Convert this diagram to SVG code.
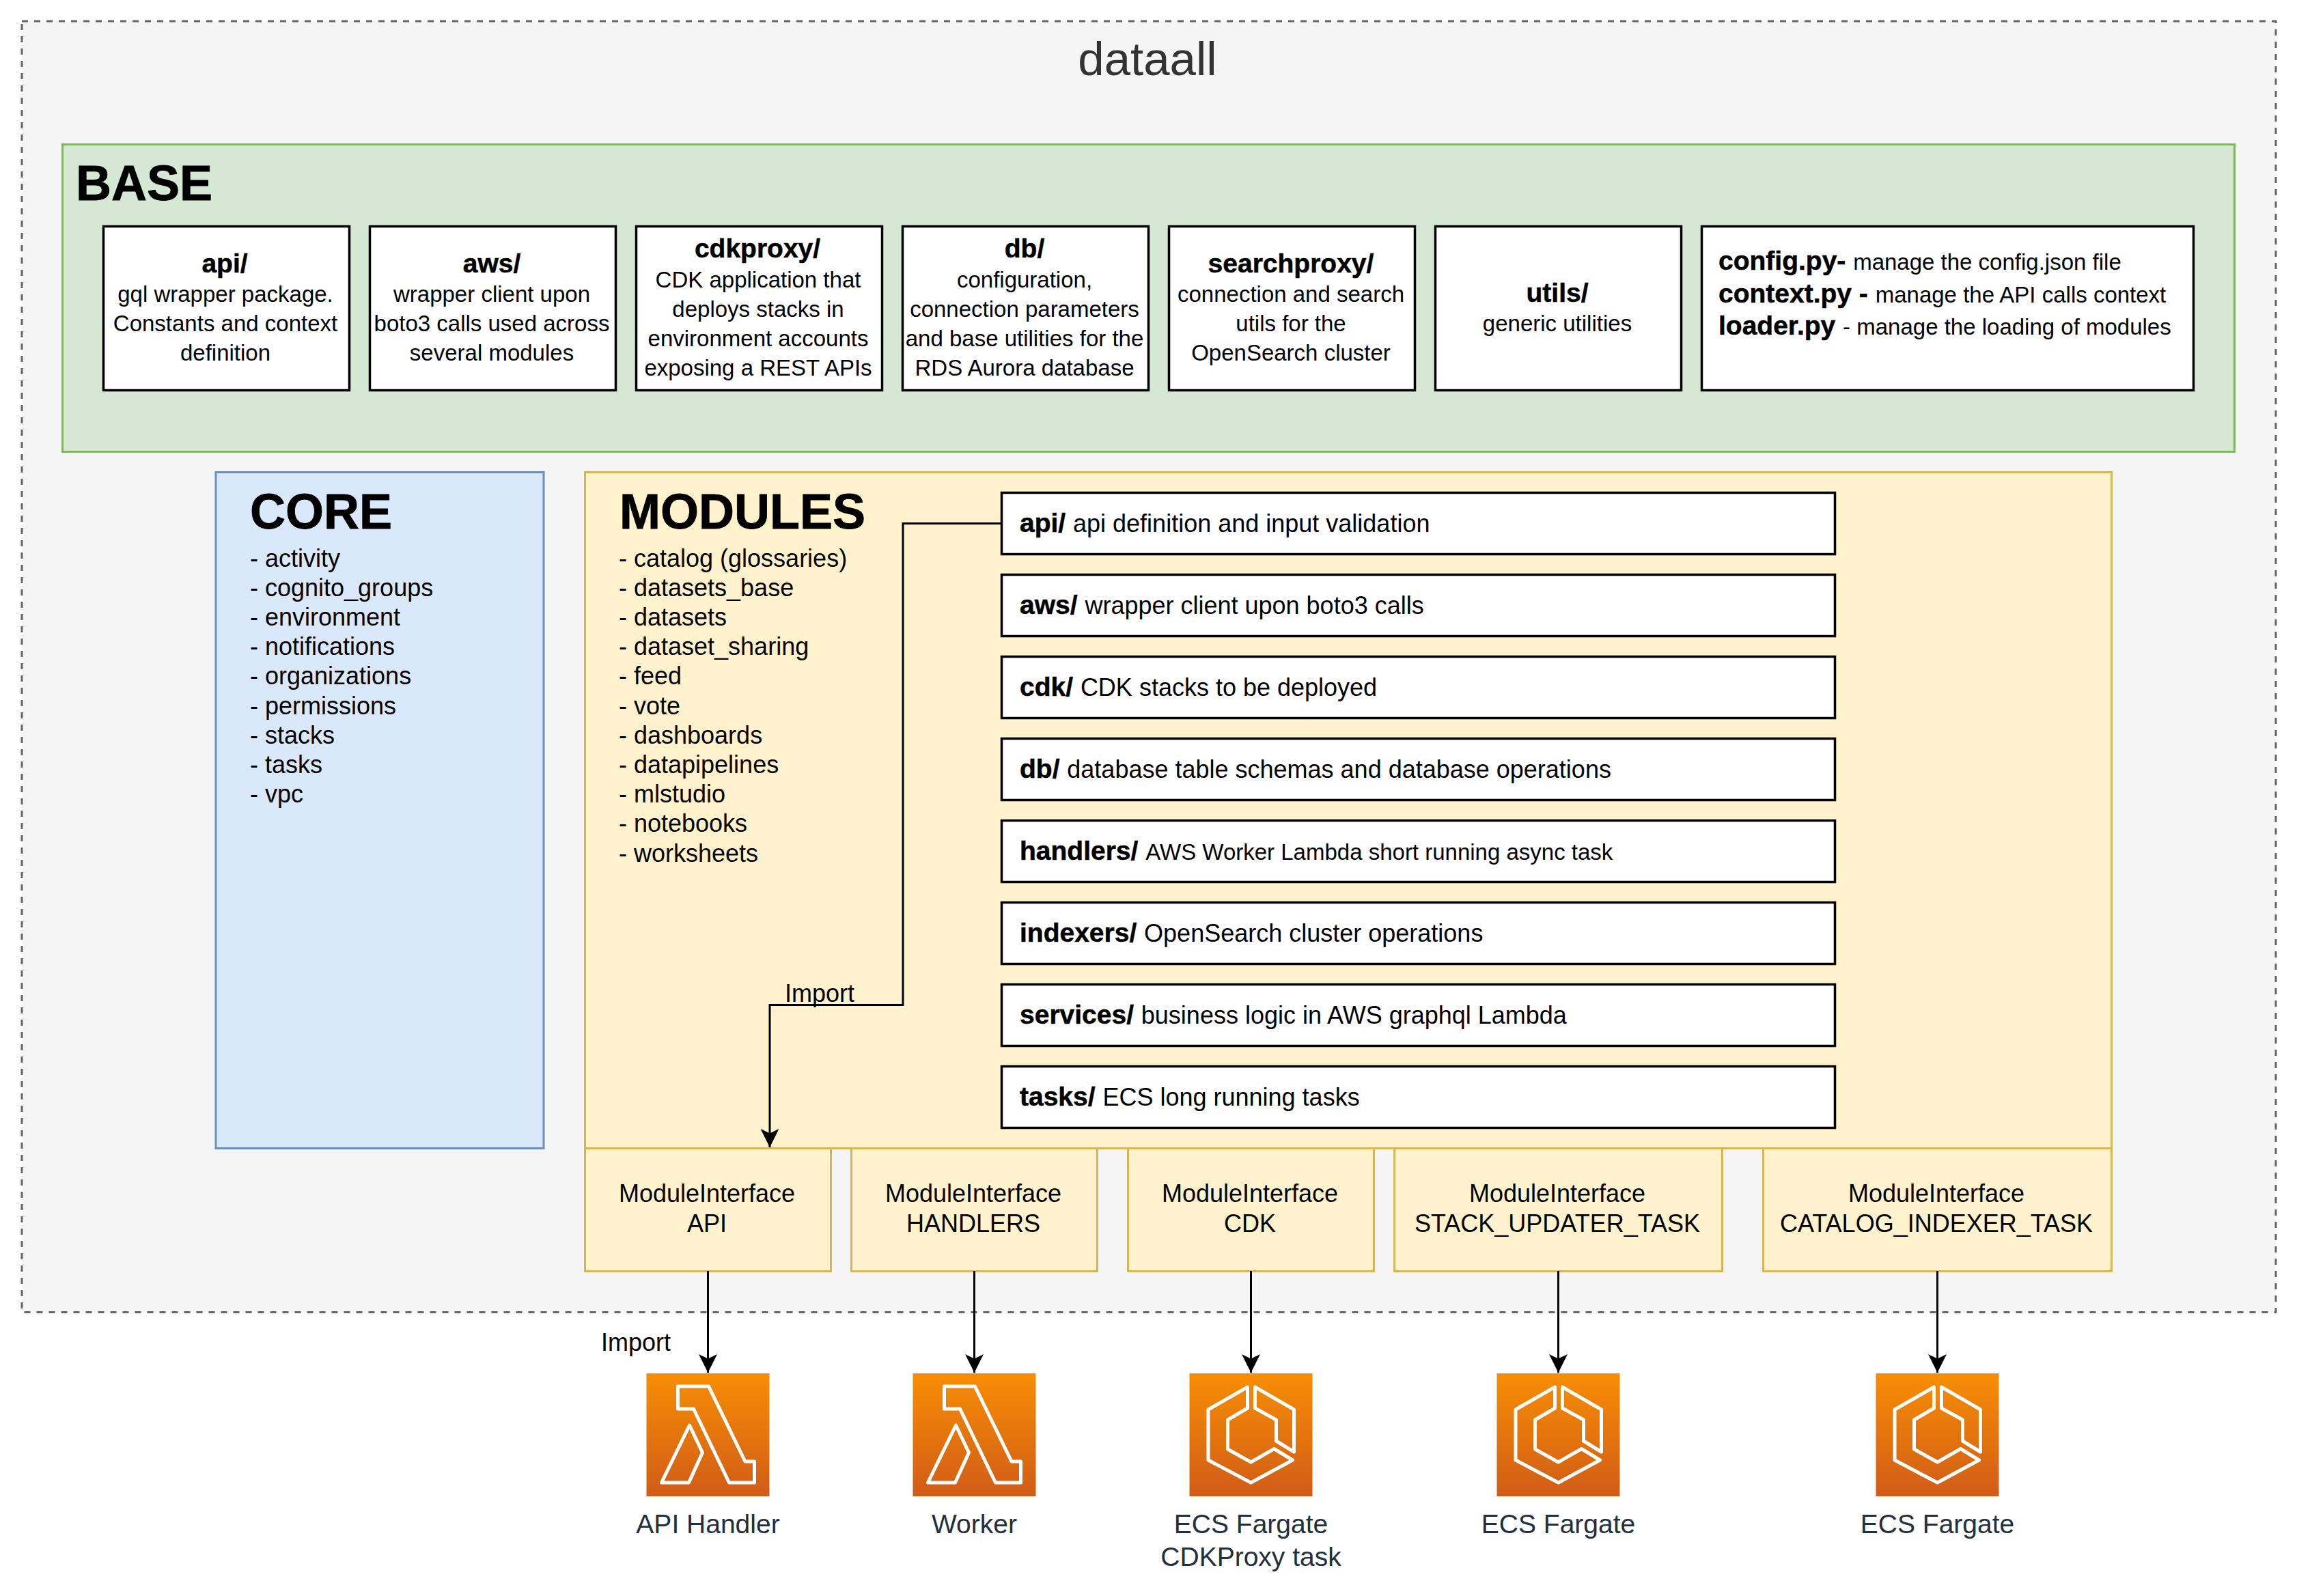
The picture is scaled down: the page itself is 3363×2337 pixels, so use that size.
<svg xmlns="http://www.w3.org/2000/svg" xmlns:xlink="http://www.w3.org/1999/xlink" width="3363" height="2337" viewBox="0 0 3363 2337">
<style>
text{font-family:"Liberation Sans",Arial,Helvetica,sans-serif;fill:#000}
.c{text-anchor:middle}
.r{font-size:33px}
.m{font-size:36px}
.b{font-size:39px;font-weight:700;stroke:#000;stroke-width:.5}
.h{font-size:72px;font-weight:700;stroke:#000;stroke-width:.8}
.l{font-size:39px;fill:#232f3e;text-anchor:middle}
.box{fill:#fff;stroke:#000;stroke-width:3.5}
.y{fill:#fff2cc;stroke:#d6b656;stroke-width:3}
.e{fill:none;stroke:#000;stroke-width:3}
.g{fill:none;stroke:#fff;stroke-width:5;stroke-linejoin:round}
</style>
<defs>
<linearGradient id="o" x1="0" y1="0" x2="0" y2="1"><stop offset="0" stop-color="#f78e04"/><stop offset="1" stop-color="#d05c17"/></linearGradient>
<marker id="arrow" markerUnits="userSpaceOnUse" markerWidth="30" markerHeight="30" refX="27" refY="14" orient="auto"><path d="M0 0.5L27 14L0 27.5L6.5 14Z" fill="#000"/></marker>
<g id="lambda"><rect width="180" height="180" fill="url(#o)"/><path class="g" d="M46 19H91L144.500 129H158V160H121L69 52H46Z"/><path class="g" d="M63 76L82 116L62 160H22Z"/></g>
<g id="fargate"><rect width="180" height="180" fill="url(#o)"/><path class="g" d="M85 20V51L56 68V111L90 130L124 110.500L151 127L90 160L27.500 127V53Z"/><path class="g" d="M96 20L153 53V115L127 99V68L96 51Z"/></g>
</defs>
<rect width="3363" height="2337" fill="#fff"/>
<g id="dataall"><rect x="32" y="31" width="3300" height="1890.500" fill="#f5f5f5" stroke="#666" stroke-width="3" stroke-dasharray="9 9"/><text x="1680" y="110" class="c" style="font-size:69px;fill:#333">dataall</text></g>
<g id="base"><rect x="91.500" y="211.500" width="3180" height="450" fill="#d5e8d4" stroke="#82b366" stroke-width="3"/><text x="111" y="293" class="h">BASE</text></g>
<g id="base-api"><rect class="box" x="151.500" y="331.500" width="360" height="240"/><text class="c b" x="329" y="399">api/</text><text class="c r" x="330" y="442">gql wrapper package.</text><text class="c r" x="330" y="485">Constants and context</text><text class="c r" x="330" y="528">definition</text></g>
<g id="base-aws"><rect class="box" x="541.500" y="331.500" width="360" height="240"/><text class="c b" x="720" y="399">aws/</text><text class="c r" x="720" y="442">wrapper client upon</text><text class="c r" x="720" y="485">boto3 calls used across</text><text class="c r" x="720" y="528">several modules</text></g>
<g id="base-cdkproxy"><rect class="box" x="931.500" y="331.500" width="360" height="240"/><text class="c b" x="1109" y="377">cdkproxy/</text><text class="c r" x="1110" y="421">CDK application that</text><text class="c r" x="1110" y="464">deploys stacks in</text><text class="c r" x="1110" y="507">environment accounts</text><text class="c r" x="1110" y="550">exposing a REST APIs</text></g>
<g id="base-db"><rect class="box" x="1321.500" y="331.500" width="360" height="240"/><text class="c b" x="1500" y="377">db/</text><text class="c r" x="1500" y="421">configuration,</text><text class="c r" x="1500" y="464">connection parameters</text><text class="c r" x="1500" y="507">and base utilities for the</text><text class="c r" x="1500" y="550">RDS Aurora database</text></g>
<g id="base-searchproxy"><rect class="box" x="1711.500" y="331.500" width="360" height="240"/><text class="c b" x="1890" y="399">searchproxy/</text><text class="c r" x="1890" y="442">connection and search</text><text class="c r" x="1890" y="485">utils for the</text><text class="c r" x="1890" y="528">OpenSearch cluster</text></g>
<g id="base-utils"><rect class="box" x="2101.500" y="331.500" width="360" height="240"/><text class="c b" x="2280" y="442">utils/</text><text class="c r" x="2280" y="485">generic utilities</text></g>
<g id="base-config"><rect class="box" x="2491.500" y="331.500" width="720" height="240"/><text x="2516" y="395"><tspan class="b">config.py- </tspan><tspan class="r">manage the config.json file</tspan></text><text x="2516" y="443"><tspan class="b">context.py - </tspan><tspan class="r">manage the API calls context</tspan></text><text x="2516" y="490"><tspan class="b">loader.py </tspan><tspan class="r">- manage the loading of modules</tspan></text></g>
<g id="core"><rect x="316" y="691.500" width="480" height="990" fill="#dae8fc" stroke="#6c8ebf" stroke-width="3"/><text x="366" y="774" class="h">CORE</text>
<text class="m" x="366" y="830">- activity</text><text class="m" x="366" y="873">- cognito_groups</text><text class="m" x="366" y="916">- environment</text><text class="m" x="366" y="959">- notifications</text><text class="m" x="366" y="1002">- organizations</text><text class="m" x="366" y="1046">- permissions</text><text class="m" x="366" y="1089">- stacks</text><text class="m" x="366" y="1132">- tasks</text><text class="m" x="366" y="1175">- vpc</text></g>
<g id="modules"><rect class="y" x="856.500" y="691.500" width="2235" height="990"/><text x="907" y="774" class="h">MODULES</text>
<text class="m" x="906" y="830">- catalog (glossaries)</text><text class="m" x="906" y="873">- datasets_base</text><text class="m" x="906" y="916">- datasets</text><text class="m" x="906" y="959">- dataset_sharing</text><text class="m" x="906" y="1002">- feed</text><text class="m" x="906" y="1046">- vote</text><text class="m" x="906" y="1089">- dashboards</text><text class="m" x="906" y="1132">- datapipelines</text><text class="m" x="906" y="1175">- mlstudio</text><text class="m" x="906" y="1218">- notebooks</text><text class="m" x="906" y="1262">- worksheets</text></g>
<g id="mod-api"><rect class="box" x="1466.500" y="721.500" width="1220" height="90"/><text x="1493" y="779"><tspan class="b">api/ </tspan><tspan class="m">api definition and input validation</tspan></text></g>
<g id="mod-aws"><rect class="box" x="1466.500" y="841.500" width="1220" height="90"/><text x="1493" y="899"><tspan class="b">aws/ </tspan><tspan class="m">wrapper client upon boto3 calls</tspan></text></g>
<g id="mod-cdk"><rect class="box" x="1466.500" y="961.500" width="1220" height="90"/><text x="1493" y="1019"><tspan class="b">cdk/ </tspan><tspan class="m">CDK stacks to be deployed</tspan></text></g>
<g id="mod-db"><rect class="box" x="1466.500" y="1081.500" width="1220" height="90"/><text x="1493" y="1139"><tspan class="b">db/ </tspan><tspan class="m">database table schemas and database operations</tspan></text></g>
<g id="mod-handlers"><rect class="box" x="1466.500" y="1201.500" width="1220" height="90"/><text x="1493" y="1259"><tspan class="b">handlers/ </tspan><tspan class="r">AWS Worker Lambda short running async task</tspan></text></g>
<g id="mod-indexers"><rect class="box" x="1466.500" y="1321.500" width="1220" height="90"/><text x="1493" y="1379"><tspan class="b">indexers/ </tspan><tspan class="m">OpenSearch cluster operations</tspan></text></g>
<g id="mod-services"><rect class="box" x="1466.500" y="1441.500" width="1220" height="90"/><text x="1493" y="1499"><tspan class="b">services/ </tspan><tspan class="m">business logic in AWS graphql Lambda</tspan></text></g>
<g id="mod-tasks"><rect class="box" x="1466.500" y="1561.500" width="1220" height="90"/><text x="1493" y="1619"><tspan class="b">tasks/ </tspan><tspan class="m">ECS long running tasks</tspan></text></g>
<g id="if-api"><rect class="y" x="856.500" y="1681.500" width="360" height="180"/><text class="c m" x="1035" y="1760">ModuleInterface</text><text class="c m" x="1035" y="1804">API</text></g>
<g id="if-handlers"><rect class="y" x="1246.500" y="1681.500" width="360" height="180"/><text class="c m" x="1425" y="1760">ModuleInterface</text><text class="c m" x="1425" y="1804">HANDLERS</text></g>
<g id="if-cdk"><rect class="y" x="1651.500" y="1681.500" width="360" height="180"/><text class="c m" x="1830" y="1760">ModuleInterface</text><text class="c m" x="1830" y="1804">CDK</text></g>
<g id="if-stack"><rect class="y" x="2041.500" y="1681.500" width="480" height="180"/><text class="c m" x="2280" y="1760">ModuleInterface</text><text class="c m" x="2280" y="1804">STACK_UPDATER_TASK</text></g>
<g id="if-catalog"><rect class="y" x="2581.500" y="1681.500" width="510" height="180"/><text class="c m" x="2835" y="1760">ModuleInterface</text><text class="c m" x="2835" y="1804">CATALOG_INDEXER_TASK</text></g>
<g id="connectors">
<path class="e" marker-end="url(#arrow)" d="M1466 766.500H1322V1471.500H1127V1680"/>
<path class="e" marker-end="url(#arrow)" d="M1036.500 1861V2010"/>
<path class="e" marker-end="url(#arrow)" d="M1426.500 1861V2010"/>
<path class="e" marker-end="url(#arrow)" d="M1831.500 1861V2010"/>
<path class="e" marker-end="url(#arrow)" d="M2281.500 1861V2010"/>
<path class="e" marker-end="url(#arrow)" d="M2836.500 1861V2010"/>
<text class="m" x="1149" y="1467">Import</text>
<text class="m" x="880" y="1978">Import</text>
</g>
<g id="icon-api"><use xlink:href="#lambda" href="#lambda" x="946.500" y="2011"/><text class="l" x="1036.500" y="2245">API Handler</text></g>
<g id="icon-worker"><use xlink:href="#lambda" href="#lambda" x="1336.500" y="2011"/><text class="l" x="1426.500" y="2245">Worker</text></g>
<g id="icon-cdkproxy"><use xlink:href="#fargate" href="#fargate" x="1741.500" y="2011"/><text class="l" x="1831.500" y="2245">ECS Fargate</text><text class="l" x="1831.500" y="2293">CDKProxy task</text></g>
<g id="icon-stack"><use xlink:href="#fargate" href="#fargate" x="2191.500" y="2011"/><text class="l" x="2281.500" y="2245">ECS Fargate</text></g>
<g id="icon-catalog"><use xlink:href="#fargate" href="#fargate" x="2746.500" y="2011"/><text class="l" x="2836.500" y="2245">ECS Fargate</text></g>
</svg>
